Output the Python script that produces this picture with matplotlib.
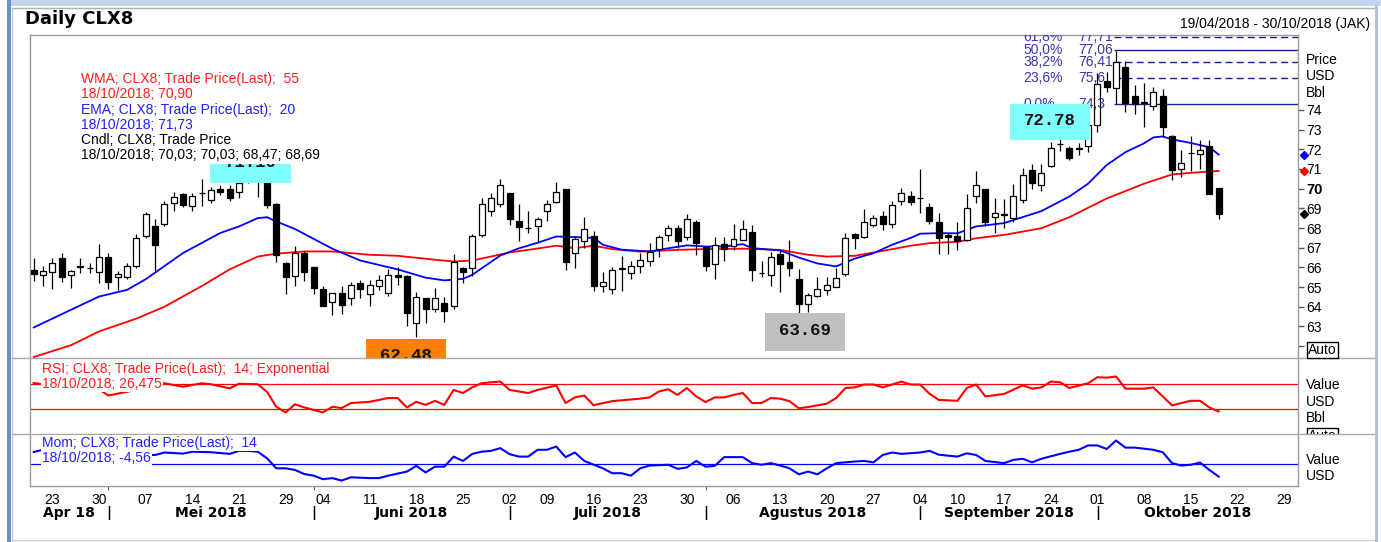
import matplotlib
matplotlib.use('Agg')
import matplotlib.pyplot as plt
import matplotlib.transforms as mtransforms
from matplotlib.patches import Rectangle
from matplotlib.lines import Line2D
import numpy as np
import pandas as pd

plt.rcParams['font.family'] = ['Liberation Sans', 'DejaVu Sans']

# ---- data -----------------------------------------------------------------
holidays = ['2018-05-28', '2018-07-04', '2018-09-03']
all_days = pd.bdate_range('2018-04-19', '2018-10-30')
days = all_days[~all_days.isin(pd.to_datetime(holidays))]

opens = [65.85, 65.63, 65.79, 66.5, 65.59, 66.0, 65.97, 65.76, 66.52, 65.49,
         65.49, 66.08, 67.57, 68.11, 68.2, 69.26, 69.74, 69.13, 69.77, 69.43,
         69.97, 69.97, 69.82, 70.4, 70.7, 70.7, 69.21, 66.22, 65.57, 66.72,
         66.0, 64.91, 64.24, 64.69, 64.44, 65.2, 64.64, 65.08, 64.69, 65.62,
         65.54, 63.17, 64.47, 63.88, 64.19, 64.02, 65.96, 65.96, 67.65, 68.84,
         69.21, 69.8, 68.37, 68.0, 68.08, 68.84, 69.31, 69.99, 66.72, 67.35,
         67.6, 65.07, 64.9, 65.9, 65.71, 66.08, 66.3, 66.93, 67.66, 67.99,
         67.52, 68.33, 67.06, 66.17, 67.18, 67.1, 67.37, 67.82, 65.72, 65.63,
         66.67, 66.27, 65.42, 64.13, 64.53, 64.86, 64.98, 65.68, 67.71, 67.54,
         68.16, 68.59, 68.21, 69.35, 69.63, 69.5, 69.06, 68.33, 67.66, 67.6,
         67.4, 69.63, 69.99, 68.58, 68.72, 68.5, 69.43, 70.95, 70.19, 71.16,
         72.25, 72.05, 72.03, 72.17, 73.24, 75.44, 75.1, 76.2, 74.68, 74.42,
         74.2, 74.68, 72.68, 70.99, 71.8, 71.75, 72.14, 70.03]
highs = [66.5, 66.05, 66.47, 66.72, 65.88, 66.5, 66.2, 67.2, 66.72, 65.8,
         66.2, 67.69, 68.79, 68.47, 69.38, 69.85, 69.8, 69.77, 70.48, 70.06,
         70.19, 70.19, 70.6, 71.10, 70.95, 70.9, 69.25, 66.25, 67.1, 66.81,
         66.0, 65.08, 64.69, 65.07, 65.24, 65.34, 65.34, 65.62, 65.91, 66.01,
         65.6, 64.73, 64.47, 64.95, 64.52, 66.67, 66.01, 67.7, 69.52, 69.77,
         70.48, 69.8, 69.21, 68.84, 68.58, 69.43, 70.36, 69.99, 67.6, 68.54,
         67.86, 65.79, 66.01, 66.6, 66.3, 66.72, 67.23, 67.66, 68.16, 68.16,
         68.72, 68.42, 67.06, 67.54, 67.54, 68.21, 68.42, 68.16, 66.35, 66.76,
         66.81, 67.37, 65.91, 64.7, 65.51, 65.51, 65.96, 67.74, 67.74, 68.96,
         68.64, 68.87, 69.35, 70.02, 69.86, 70.99, 69.26, 68.76, 67.74, 68.33,
         69.73, 70.87, 69.99, 69.52, 69.48, 70.24, 71.04, 71.24, 71.26, 72.39,
         72.5, 72.17, 72.3, 73.49, 75.86, 75.91, 77.0, 76.5, 75.27, 75.35,
         75.18, 75.05, 72.73, 71.97, 72.68, 72.48, 72.48, 70.03]
lows = [65.3, 65.07, 64.9, 65.24, 64.95, 65.7, 65.7, 65.2, 64.9, 64.86,
        65.4, 65.96, 67.49, 65.76, 68.11, 68.84, 69.09, 68.87, 69.13, 69.26,
        69.68, 69.35, 69.52, 70.3, 69.55, 69.04, 66.25, 64.66, 65.08, 65.29,
        64.66, 64.02, 63.6, 63.64, 64.1, 64.44, 64.02, 64.86, 64.56, 65.12,
        63.0, 62.48, 63.2, 63.76, 63.22, 63.88, 65.2, 65.57, 67.54, 68.6,
        69.09, 68.16, 67.32, 67.74, 67.27, 68.38, 69.29, 65.88, 65.96, 66.98,
        64.78, 64.73, 64.66, 64.81, 65.42, 65.71, 66.05, 66.55, 67.32, 66.98,
        67.4, 66.64, 65.84, 65.42, 66.3, 66.9, 67.37, 65.32, 65.51, 65.08,
        64.75, 65.54, 63.69, 63.72, 64.49, 64.61, 64.98, 65.54, 66.95, 67.49,
        68.03, 67.88, 67.99, 69.18, 69.18, 68.76, 68.21, 66.69, 66.67, 66.9,
        67.32, 69.26, 68.08, 67.74, 67.99, 68.28, 69.26, 69.97, 69.9, 71.12,
        71.93, 71.43, 71.72, 71.88, 72.9, 74.9, 74.3, 73.88, 73.8, 73.12,
        74.0, 72.61, 70.45, 70.61, 70.87, 70.99, 69.74, 68.47]
closes = [65.65, 65.83, 66.22, 65.49, 65.83, 66.05, 65.95, 66.52, 65.24, 65.66,
          66.08, 67.5, 68.7, 67.15, 69.21, 69.6, 69.18, 69.65, 69.8, 69.94,
          69.82, 69.52, 70.28, 70.8, 70.6, 69.18, 66.64, 65.49, 66.72, 65.79,
          64.95, 64.02, 64.69, 64.07, 65.12, 64.9, 65.12, 65.34, 65.62, 65.5,
          63.71, 64.52, 63.9, 64.44, 63.8, 66.27, 65.79, 67.57, 69.21, 69.52,
          70.19, 68.45, 68.03, 67.99, 68.45, 69.21, 69.82, 66.25, 67.45, 67.96,
          65.07, 65.24, 65.88, 65.96, 66.08, 66.39, 66.76, 67.54, 67.99, 67.32,
          68.47, 67.23, 66.05, 67.15, 66.93, 67.44, 67.96, 65.85, 65.7, 66.52,
          66.17, 65.96, 64.15, 64.61, 64.9, 65.12, 65.46, 67.49, 67.49, 68.33,
          68.5, 68.21, 69.18, 69.8, 69.3, 69.52, 68.37, 67.49, 67.54, 67.32,
          69.01, 70.16, 68.33, 68.75, 68.64, 69.6, 70.7, 70.31, 70.78, 72.05,
          72.26, 71.55, 72.05, 73.24, 75.3, 75.18, 76.42, 74.34, 74.3, 74.34,
          74.93, 73.15, 70.95, 71.29, 71.8, 71.97, 69.74, 68.69]

# EMA 20 / WMA 55 (trading-day index, value)
ema_idx = [0, 4, 7, 10, 12, 16, 20, 22, 24, 25, 26, 28, 32, 35, 39, 42, 44, 46,
           47, 48, 50, 52, 54, 56, 58, 60, 61, 63, 66, 68, 70, 72, 74, 76, 77,
           80, 82, 84, 86, 88, 90, 92, 94, 95, 97, 99, 101, 104, 108, 111, 113,
           115, 117, 119, 120, 121, 122, 124, 126, 127]
ema_val = [62.95, 63.85, 64.52, 64.86, 65.4, 66.73, 67.75, 68.08, 68.5, 68.55,
           68.33, 67.95, 66.95, 66.35, 65.9, 65.48, 65.34, 65.42, 65.62, 65.95,
           66.6, 66.97, 67.25, 67.57, 67.54, 67.5, 67.15, 66.9, 66.81, 66.97,
           67.12, 67.06, 67.06, 67.18, 66.98, 66.86, 66.5, 66.2, 66.05, 66.45,
           66.72, 67.15, 67.5, 67.71, 67.74, 67.73, 68.08, 68.25, 68.86, 69.6,
           70.25, 71.2, 71.85, 72.3, 72.6, 72.65, 72.5, 72.32, 72.1, 71.73]
wma_idx = [0, 4, 7, 11, 14, 18, 21, 24, 26, 29, 32, 36, 39, 43, 45, 47, 49, 51,
           53, 56, 58, 60, 62, 65, 69, 72, 76, 80, 83, 85, 88, 91, 94, 96, 99,
           101, 104, 108, 111, 115, 119, 122, 124, 127]
wma_val = [61.45, 62.05, 62.75, 63.4, 64.0, 65.05, 65.9, 66.55, 66.7, 66.81,
           66.81, 66.64, 66.59, 66.39, 66.3, 66.35, 66.55, 66.76, 66.89, 67.1,
           66.98, 67.1, 66.93, 66.8, 66.89, 66.93, 66.95, 66.89, 66.64, 66.55,
           66.59, 66.84, 67.1, 67.23, 67.3, 67.48, 67.65, 67.99, 68.55, 69.5,
           70.25, 70.72, 70.8, 70.9]

rsi_idx = [0, 2, 5, 7, 8, 9, 10, 12, 14, 16, 18, 19, 21, 22, 24, 25, 26, 27, 28,
           29, 31, 32, 33, 34, 36, 38, 39, 40, 41, 42, 43, 44, 45, 46, 47, 48,
           49, 50, 51, 53, 54, 56, 57, 58, 59, 60, 62, 65, 66, 67, 68, 69, 70,
           71, 72, 73, 74, 75, 76, 77, 78, 79, 80, 81, 82, 83, 85, 86, 87, 88,
           89, 90, 91, 93, 94, 95, 96, 97, 99, 100, 101, 102, 104, 106, 107,
           108, 109, 110, 111, 113, 114, 115, 116, 117, 119, 120, 122, 124,
           125, 126, 127]
rsi_val = [72, 68, 66, 62, 52, 55, 58, 64, 71.6, 66, 71.6, 70, 63.5, 70.8, 70,
           58, 34, 25, 38, 33, 25, 34, 32, 40, 42, 48, 48, 33, 42, 37, 43.5, 37,
           61, 56, 65, 71.6, 73.2, 74.3, 61, 56, 61, 68, 40, 49, 52, 36.5, 43,
           47, 49, 58.5, 62, 53, 64, 50.6, 41.6, 49, 49, 53, 56, 40, 40, 48, 47,
           43, 31.6, 33.7, 39, 48, 64, 65, 69.6, 69.6, 65, 74.3, 69.6, 69.6,
           55, 45, 43.6, 64, 69.6, 50.6, 54.5, 68.3, 63, 65, 74.3, 73.2, 64,
           71.6, 81.3, 80.6, 82.4, 63, 63, 65, 36.3, 43.6, 43.6, 33, 26.475]

mom_idx = [0, 1, 5, 9, 13, 14, 16, 17, 19, 21, 22, 23, 24, 25, 26, 27, 28, 29,
           30, 31, 32, 33, 34, 36, 37, 38, 40, 41, 42, 43, 44, 45, 46, 47, 48,
           49, 50, 51, 52, 53, 54, 55, 56, 57, 58, 59, 61, 62, 63, 64, 65, 66,
           68, 69, 70, 71, 72, 73, 74, 76, 77, 78, 79, 80, 81, 82, 83, 84, 85,
           86, 88, 89, 90, 91, 92, 93, 95, 96, 97, 99, 100, 101, 102, 104, 105,
           106, 107, 108, 110, 111, 112, 113, 114, 115, 116, 117, 118, 120,
           121, 122, 123, 124, 125, 126, 127]
mom_val = [4.5, 5.3, 4.0, 3.5, 3.4, 4.3, 3.9, 4.6, 4.4, 3.8, 4.9, 4.9, 4.6, 2.2,
           -1.5, -1.5, -2.1, -3.6, -4.2, -5.5, -5.1, -6.0, -4.8, -5.1, -5.1,
           -4.2, -2.7, -0.6, -3.0, -0.9, -0.9, 2.8, 1.2, 3.8, 4.6, 4.9, 5.9, 3.7,
           2.8, 2.8, 5.3, 5.3, 6.5, 2.6, 4.3, 1.2, -1.5, -3.3, -3.3, -4.2, -1.5,
           -0.5, -0.2, -1.7, -1.2, 1.2, -0.9, -0.6, 2.6, 2.6, 0.4, -0.2, 0.4,
           -0.5, -1.5, -3.7, -2.7, -3.7, -1.5, 0.4, 1.0, 1.2, 0.7, 3.4, 4.3, 3.8,
           4.3, 4.9, 3.5, 2.8, 4.0, 3.4, 1.2, 0.4, 1.6, 2.0, 0.7, 2.0, 3.8, 4.6,
           5.3, 6.9, 6.9, 5.6, 8.7, 6.1, 6.1, 5.3, 4.4, 0.4, -0.5, -0.2, 0.6,
           -2.1, -4.56]

fib_pct = [61.8, 50.0, 38.2, 23.6, 0.0]
fib_val = [77.71, 77.06, 76.41, 75.6, 74.3]

month_names = ['Apr 18', 'Mei 2018', 'Juni 2018', 'Juli 2018', 'Agustus 2018',
               'September 2018', 'Oktober 2018']

# ---- figure ---------------------------------------------------------------
W, H = 1381, 542
fig = plt.figure(figsize=(W / 100, H / 100), dpi=100)


def fx(px):
    return px / W


def fy(py):
    return 1 - py / H


def frect(x0, y0, x1, y1):
    return [fx(x0), fy(y1), (x1 - x0) / W, (y1 - y0) / H]


ax = fig.add_axes(frect(30, 35, 1298, 358))
ax2 = fig.add_axes(frect(30, 358, 1298, 434))
ax3 = fig.add_axes(frect(30, 434, 1298, 486))

xlim = (-0.4, 135.5)
frame_col = '#9a9a9a'
for a in (ax, ax2, ax3):
    a.set_xlim(*xlim)
    for s in a.spines.values():
        s.set_color(frame_col)
        s.set_linewidth(1)
ax.spines['bottom'].set_visible(False)
ax2.spines['top'].set_visible(False)
ax2.spines['bottom'].set_visible(False)
ax3.spines['top'].set_visible(False)

# ---- candles --------------------------------------------------------------
o, h, l, c = map(np.array, (opens, highs, lows, closes))
x = np.arange(len(c))
up = c >= o
ax.vlines(x, l, h, color='black', lw=0.9, zorder=2)
ax.bar(x[up], c[up] - o[up], bottom=o[up], width=0.64, facecolor='white',
       edgecolor='black', lw=0.9, zorder=3)
ax.bar(x[~up], o[~up] - c[~up], bottom=c[~up], width=0.64, facecolor='black',
       edgecolor='black', lw=0.9, zorder=3)

ax.plot(wma_idx, wma_val, color='#ff0000', lw=1.3, zorder=1.5)
ax.plot(ema_idx, ema_val, color='#0000ff', lw=1.3, zorder=1.6)
ax.set_ylim(61.4, 77.8)

# fibonacci levels
start = x[np.argmax(h)]
for p, v in zip(fib_pct, fib_val):
    ls = '-' if p in (0.0, 50.0) else (0, (5, 3))
    ax.hlines(v, start - 0.2, xlim[1], color='#1c1c9c', lw=1.0, linestyles=ls,
              zorder=2)
    ax.text(start - 9.9, v, f"{p:.1f}%".replace('.', ','), color='#3535b0',
            fontsize=10, va='center', ha='left', clip_on=True, zorder=3)
    ax.text(start - 4.1, v, f"{v:.2f}".rstrip('0').replace('.', ','),
            color='#3535b0', fontsize=10, va='center', ha='left', clip_on=True,
            zorder=3)

# value boxes
boxes = [('71.10', 18.9, 27.6, 70.29, 72.12, 71.31, '#80ffff'),
         ('72.78', 104.6, 113.2, 72.48, 74.3, 73.47, '#80ffff'),
         ('62.48', 35.6, 44.2, 60.5, 62.38, 61.51, '#ff8000'),
         ('63.69', 78.4, 87.0, 61.77, 63.7, 62.78, '#c0c0c0')]
for lab, x0, x1, y0, y1, ty, col in boxes:
    ax.add_patch(Rectangle((x0, y0), x1 - x0, y1 - y0, facecolor=col,
                           edgecolor='none', zorder=5))
    ax.text((x0 + x1) / 2, ty, lab, ha='center', va='center', fontsize=12.5,
            fontweight='bold', family='Liberation Mono', color='#111111',
            zorder=6, clip_on=True)

# right price axis
ax.yaxis.tick_right()
ax.set_yticks(range(62, 75))
ax.set_yticklabels([''] + [str(v) for v in range(63, 75)])
ax.tick_params(axis='y', direction='out', length=4, width=1, color='#555555',
               pad=2, labelsize=10)
for t in ax.get_yticklabels():
    if t.get_text() == '70':
        t.set_fontweight('bold')
        t.set_fontsize(10.5)
ax.set_xticks([])

trans = mtransforms.blended_transform_factory(ax.transAxes, ax.transData)
for val, col in ((ema_val[-1], '#0000ff'), (wma_val[-1], '#ff0000'),
                 (closes[-1], 'black')):
    ax.plot([1.005], [val], marker='D', ms=4.5, color=col, transform=trans,
            clip_on=False, zorder=7)

# ---- RSI ------------------------------------------------------------------
ax2.plot(rsi_idx, rsi_val, color='#ff0000', lw=1.5)
ax2.axhline(70, color='#ff0000', lw=0.9)
ax2.axhline(30, color='#ff0000', lw=0.9)
ax2.set_ylim(-9.5, 112)
ax2.set_xticks([])
ax2.set_yticks([])

# ---- Momentum -------------------------------------------------------------
ax3.plot(mom_idx, mom_val, color='#0000ff', lw=1.5)
ax3.axhline(0, color='#0000ff', lw=0.9)
ax3.set_ylim(-8.0, 11.1)
ax3.set_yticks([])

week_idx = [i for i, d in enumerate(days)
            if (i == 0 or d.isocalendar()[1] != days[i - 1].isocalendar()[1])
            and d - pd.Timedelta(days=d.weekday()) >= days[0]]
ax3.set_xticks(week_idx)
ax3.set_xticklabels([days[i].strftime('%d') for i in week_idx])
ax3.tick_params(axis='x', length=0, pad=5, labelsize=10)

month_starts = [i for i in range(1, len(days)) if days[i].month != days[i - 1].month]
ax3.set_xticks(month_starts, minor=True)
ax3.tick_params(axis='x', which='minor', length=3, color='#333333')

mtrans = mtransforms.blended_transform_factory(ax3.transData, fig.transFigure)
edges = [xlim[0]] + month_starts + [xlim[1]]
for name, a, b in zip(month_names, edges[:-1], edges[1:]):
    ax3.text((a + b) / 2, fy(513), name, transform=mtrans, ha='center',
             va='center', fontsize=10, fontweight='bold', family='DejaVu Sans')
for m in month_starts:
    ax3.text(m, fy(513), '|', transform=mtrans, ha='center', va='center',
             fontsize=10, fontweight='bold', family='DejaVu Sans')

# ---- texts ----------------------------------------------------------------
white = dict(facecolor='white', edgecolor='none', pad=1.0)
fig.text(fx(25), fy(19), 'Daily CLX8', fontsize=13, fontweight='bold',
         family='DejaVu Sans', va='center', ha='left')
fig.text(fx(1370), fy(24), '19/04/2018 - 30/10/2018 (JAK)', fontsize=10,
         va='center', ha='right')

legend = [('WMA; CLX8; Trade Price(Last);  55', '#ff2020'),
          ('18/10/2018; 70,90', '#ff2020'),
          ('EMA; CLX8; Trade Price(Last);  20', '#2020ff'),
          ('18/10/2018; 71,73', '#2020ff'),
          ('Cndl; CLX8; Trade Price', 'black'),
          ('18/10/2018; 70,03; 70,03; 68,47; 68,69', 'black')]
for k, (txt, col) in enumerate(legend):
    fig.text(fx(81), fy(79 + 15.3 * k), txt, color=col, fontsize=10,
             va='center', ha='left', bbox=white)

fig.text(fx(42), fy(369), 'RSI; CLX8; Trade Price(Last);  14; Exponential',
         color='#ff2020', fontsize=10, va='center', bbox=white)
fig.text(fx(42), fy(384), '18/10/2018; 26,475', color='#ff2020', fontsize=10,
         va='center', bbox=white)
fig.text(fx(42), fy(443), 'Mom; CLX8; Trade Price(Last);  14',
         color='#2020ff', fontsize=10, va='center', bbox=white)
fig.text(fx(42), fy(458), '18/10/2018; -4,56', color='#2020ff', fontsize=10,
         va='center', bbox=white)

for k, t in enumerate(['Price', 'USD', 'Bbl']):
    fig.text(fx(1306), fy(60 + 16.5 * k), t, fontsize=10, va='center')
for k, t in enumerate(['Value', 'USD', 'Bbl']):
    fig.text(fx(1306), fy(385 + 16.5 * k), t, fontsize=10, va='center')
for k, t in enumerate(['Value', 'USD']):
    fig.text(fx(1306), fy(460 + 16.5 * k), t, fontsize=10, va='center')

auto_box = dict(boxstyle='square,pad=0.1', facecolor='white',
                edgecolor='black', lw=1)
fig.text(fx(1308), fy(350), 'Auto', fontsize=10, va='center', bbox=auto_box)
t = fig.text(fx(1308), fy(436), 'Auto', fontsize=10, va='center', bbox=auto_box)
t.set_clip_box(mtransforms.TransformedBbox(
    mtransforms.Bbox([[fx(1300), fy(434)], [fx(1381), fy(420)]]),
    fig.transFigure))
t.set_clip_on(True)

# ---- window frame ---------------------------------------------------------
fig.add_artist(Rectangle((fx(8), fy(6)), 1 - fx(8), 6 / H,
                         transform=fig.transFigure, facecolor='#c3d5ee',
                         edgecolor='none'))
fig.add_artist(Rectangle((fx(7), 0), 4 / W, 1, transform=fig.transFigure,
                         facecolor='#6f8fc8', edgecolor='none'))
for yy in (358, 434):
    fig.add_artist(Line2D([fx(12), fx(1376)], [fy(yy), fy(yy)],
                          color='#a8a8a8', lw=1))
fig.add_artist(Line2D([fx(12), fx(1376)], [fy(8), fy(8)], color='#b0b0b0', lw=1))
fig.add_artist(Line2D([fx(12), fx(12)], [fy(8), fy(540)], color='#c8c8c8', lw=1))
fig.add_artist(Line2D([fx(12), fx(1376)], [fy(540), fy(540)], color='#d0d0d0', lw=1))
fig.add_artist(Line2D([fx(1376), fx(1376)], [fy(6), 0], color='#a9c0e0', lw=2))

fig.savefig('out.png', dpi=100)
